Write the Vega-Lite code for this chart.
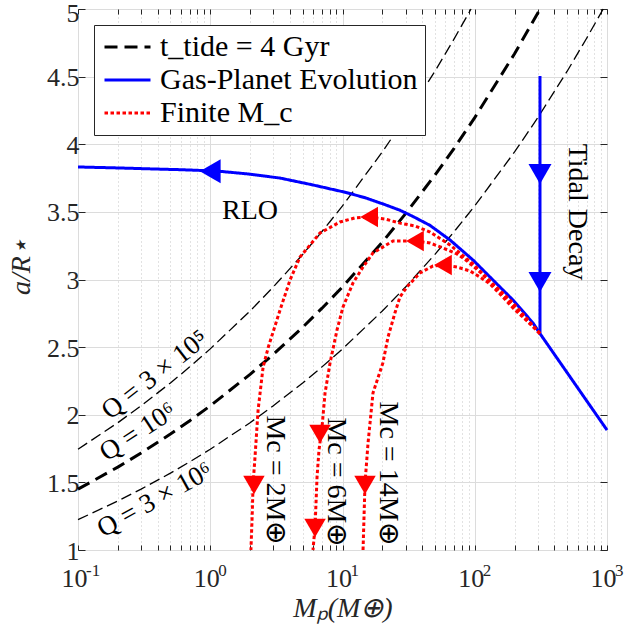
{
  "$schema": "https://vega.github.io/schema/vega-lite/v6.json",
  "width": 529,
  "height": 541,
  "autosize": {"type": "none"},
  "padding": {"left": 78, "top": 9, "right": 17, "bottom": 78},
  "config": {
    "font": "Liberation Serif",
    "view": {"stroke": "#262626", "strokeWidth": 1},
    "axis": {"labelFont": "Liberation Serif", "titleFont": "Liberation Serif", "labelColor": "#262626", "titleColor": "#262626", "tickColor": "#262626", "domainColor": "#262626", "titleFontWeight": "normal"},
    "legend": {
      "orient": "top-left", "offset": 16, "padding": 7, "strokeColor": "#262626", "fillColor": "white",
      "labelFont": "Liberation Serif", "labelFontSize": 30, "labelColor": "black", "labelLimit": 500,
      "symbolType": "M-1,0L3,0", "symbolSize": 529, "symbolStrokeWidth": 3, "rowPadding": 3, "labelOffset": 29, "cornerRadius": 0
    }
  },
  "datasets": {
    "thin": [
      {"c": "Q3e5", "i": 0, "M": 0.1, "a": 1.745}, {"c": "Q3e5", "i": 1, "M": 0.2, "a": 1.941}, {"c": "Q3e5", "i": 2, "M": 0.3, "a": 2.067},
      {"c": "Q3e5", "i": 3, "M": 0.5, "a": 2.235}, {"c": "Q3e5", "i": 4, "M": 0.7, "a": 2.354}, {"c": "Q3e5", "i": 5, "M": 1, "a": 2.487},
      {"c": "Q3e5", "i": 6, "M": 2, "a": 2.767}, {"c": "Q3e5", "i": 7, "M": 3, "a": 2.945}, {"c": "Q3e5", "i": 8, "M": 5, "a": 3.185},
      {"c": "Q3e5", "i": 9, "M": 7, "a": 3.355}, {"c": "Q3e5", "i": 10, "M": 10, "a": 3.544}, {"c": "Q3e5", "i": 11, "M": 20, "a": 3.943},
      {"c": "Q3e5", "i": 12, "M": 30, "a": 4.197}, {"c": "Q3e5", "i": 13, "M": 50, "a": 4.54}, {"c": "Q3e5", "i": 14, "M": 70, "a": 4.781},
      {"c": "Q3e5", "i": 15, "M": 93.7, "a": 5.0},
      {"c": "Q3e6", "i": 0, "M": 0.1, "a": 1.2245}, {"c": "Q3e6", "i": 1, "M": 0.2, "a": 1.362}, {"c": "Q3e6", "i": 2, "M": 0.3, "a": 1.45},
      {"c": "Q3e6", "i": 3, "M": 0.5, "a": 1.568}, {"c": "Q3e6", "i": 4, "M": 0.7, "a": 1.652}, {"c": "Q3e6", "i": 5, "M": 1, "a": 1.745},
      {"c": "Q3e6", "i": 6, "M": 2, "a": 1.941}, {"c": "Q3e6", "i": 7, "M": 3, "a": 2.067}, {"c": "Q3e6", "i": 8, "M": 5, "a": 2.235},
      {"c": "Q3e6", "i": 9, "M": 7, "a": 2.354}, {"c": "Q3e6", "i": 10, "M": 10, "a": 2.487}, {"c": "Q3e6", "i": 11, "M": 20, "a": 2.767},
      {"c": "Q3e6", "i": 12, "M": 30, "a": 2.945}, {"c": "Q3e6", "i": 13, "M": 50, "a": 3.186}, {"c": "Q3e6", "i": 14, "M": 70, "a": 3.355},
      {"c": "Q3e6", "i": 15, "M": 100, "a": 3.544}, {"c": "Q3e6", "i": 16, "M": 200, "a": 3.943}, {"c": "Q3e6", "i": 17, "M": 300, "a": 4.197},
      {"c": "Q3e6", "i": 18, "M": 500, "a": 4.54}, {"c": "Q3e6", "i": 19, "M": 700, "a": 4.782}, {"c": "Q3e6", "i": 20, "M": 936, "a": 5.0}
    ],
    "main": [
      {"s": "t_tide = 4 Gyr", "c": "Q1e6", "i": 0, "M": 0.1, "a": 1.45}, {"s": "t_tide = 4 Gyr", "c": "Q1e6", "i": 1, "M": 0.2, "a": 1.613},
      {"s": "t_tide = 4 Gyr", "c": "Q1e6", "i": 2, "M": 0.3, "a": 1.717}, {"s": "t_tide = 4 Gyr", "c": "Q1e6", "i": 3, "M": 0.5, "a": 1.857},
      {"s": "t_tide = 4 Gyr", "c": "Q1e6", "i": 4, "M": 0.7, "a": 1.956}, {"s": "t_tide = 4 Gyr", "c": "Q1e6", "i": 5, "M": 1, "a": 2.066},
      {"s": "t_tide = 4 Gyr", "c": "Q1e6", "i": 6, "M": 2, "a": 2.299}, {"s": "t_tide = 4 Gyr", "c": "Q1e6", "i": 7, "M": 3, "a": 2.447},
      {"s": "t_tide = 4 Gyr", "c": "Q1e6", "i": 8, "M": 5, "a": 2.647}, {"s": "t_tide = 4 Gyr", "c": "Q1e6", "i": 9, "M": 7, "a": 2.788},
      {"s": "t_tide = 4 Gyr", "c": "Q1e6", "i": 10, "M": 10, "a": 2.945}, {"s": "t_tide = 4 Gyr", "c": "Q1e6", "i": 11, "M": 20, "a": 3.276},
      {"s": "t_tide = 4 Gyr", "c": "Q1e6", "i": 12, "M": 30, "a": 3.487}, {"s": "t_tide = 4 Gyr", "c": "Q1e6", "i": 13, "M": 50, "a": 3.772},
      {"s": "t_tide = 4 Gyr", "c": "Q1e6", "i": 14, "M": 70, "a": 3.972}, {"s": "t_tide = 4 Gyr", "c": "Q1e6", "i": 15, "M": 100, "a": 4.197},
      {"s": "t_tide = 4 Gyr", "c": "Q1e6", "i": 16, "M": 200, "a": 4.669}, {"s": "t_tide = 4 Gyr", "c": "Q1e6", "i": 17, "M": 312, "a": 5.0},
      {"s": "Gas-Planet Evolution", "c": "gas", "i": 0, "M": 0.1, "a": 3.832}, {"s": "Gas-Planet Evolution", "c": "gas", "i": 1, "M": 0.2, "a": 3.825},
      {"s": "Gas-Planet Evolution", "c": "gas", "i": 2, "M": 0.35, "a": 3.818}, {"s": "Gas-Planet Evolution", "c": "gas", "i": 3, "M": 0.59, "a": 3.812},
      {"s": "Gas-Planet Evolution", "c": "gas", "i": 4, "M": 1.12, "a": 3.802}, {"s": "Gas-Planet Evolution", "c": "gas", "i": 5, "M": 1.9, "a": 3.781},
      {"s": "Gas-Planet Evolution", "c": "gas", "i": 6, "M": 3.37, "a": 3.75}, {"s": "Gas-Planet Evolution", "c": "gas", "i": 7, "M": 5.98, "a": 3.699},
      {"s": "Gas-Planet Evolution", "c": "gas", "i": 8, "M": 10.8, "a": 3.642}, {"s": "Gas-Planet Evolution", "c": "gas", "i": 9, "M": 15.0, "a": 3.603},
      {"s": "Gas-Planet Evolution", "c": "gas", "i": 10, "M": 21.0, "a": 3.553},
      {"s": "Gas-Planet Evolution", "c": "gas", "i": 11, "M": 27.2, "a": 3.512}, {"s": "Gas-Planet Evolution", "c": "gas", "i": 12, "M": 34.1, "a": 3.466},
      {"s": "Gas-Planet Evolution", "c": "gas", "i": 13, "M": 45.9, "a": 3.4}, {"s": "Gas-Planet Evolution", "c": "gas", "i": 14, "M": 65.0, "a": 3.292},
      {"s": "Gas-Planet Evolution", "c": "gas", "i": 15, "M": 97.0, "a": 3.144}, {"s": "Gas-Planet Evolution", "c": "gas", "i": 16, "M": 137.4, "a": 2.996},
      {"s": "Gas-Planet Evolution", "c": "gas", "i": 17, "M": 194.6, "a": 2.848}, {"s": "Gas-Planet Evolution", "c": "gas", "i": 18, "M": 276, "a": 2.678},
      {"s": "Gas-Planet Evolution", "c": "gas", "i": 19, "M": 311.4, "a": 2.6}, {"s": "Gas-Planet Evolution", "c": "gas", "i": 20, "M": 1000, "a": 1.887},
      {"s": "Gas-Planet Evolution", "c": "tidal", "i": 0, "M": 311.4, "a": 4.505}, {"s": "Gas-Planet Evolution", "c": "tidal", "i": 1, "M": 311.4, "a": 2.6},
      {"s": "Finite M_c", "c": "Mc2", "i": 0, "M": 311.4, "a": 2.6}, {"s": "Finite M_c", "c": "Mc2", "i": 1, "M": 194.6, "a": 2.826},
      {"s": "Finite M_c", "c": "Mc2", "i": 2, "M": 137.4, "a": 2.967}, {"s": "Finite M_c", "c": "Mc2", "i": 3, "M": 97.0, "a": 3.115},
      {"s": "Finite M_c", "c": "Mc2", "i": 4, "M": 65.0, "a": 3.255}, {"s": "Finite M_c", "c": "Mc2", "i": 5, "M": 45.9, "a": 3.351},
      {"s": "Finite M_c", "c": "Mc2", "i": 6, "M": 35.3, "a": 3.396}, {"s": "Finite M_c", "c": "Mc2", "i": 7, "M": 27.2, "a": 3.417},
      {"s": "Finite M_c", "c": "Mc2", "i": 8, "M": 21.0, "a": 3.447}, {"s": "Finite M_c", "c": "Mc2", "i": 9, "M": 15.9, "a": 3.462},
      {"s": "Finite M_c", "c": "Mc2", "i": 10, "M": 12.4, "a": 3.455}, {"s": "Finite M_c", "c": "Mc2", "i": 11, "M": 9.57, "a": 3.425},
      {"s": "Finite M_c", "c": "Mc2", "i": 12, "M": 6.76, "a": 3.344}, {"s": "Finite M_c", "c": "Mc2", "i": 13, "M": 4.77, "a": 3.166},
      {"s": "Finite M_c", "c": "Mc2", "i": 14, "M": 4.01, "a": 2.996}, {"s": "Finite M_c", "c": "Mc2", "i": 15, "M": 3.37, "a": 2.774},
      {"s": "Finite M_c", "c": "Mc2", "i": 16, "M": 2.75, "a": 2.501}, {"s": "Finite M_c", "c": "Mc2", "i": 17, "M": 2.51, "a": 2.353},
      {"s": "Finite M_c", "c": "Mc2", "i": 18, "M": 2.3, "a": 2.035}, {"s": "Finite M_c", "c": "Mc2", "i": 19, "M": 2.18, "a": 1.688},
      {"s": "Finite M_c", "c": "Mc2", "i": 20, "M": 2.11, "a": 1.495}, {"s": "Finite M_c", "c": "Mc2", "i": 21, "M": 2.07, "a": 1.222},
      {"s": "Finite M_c", "c": "Mc2", "i": 22, "M": 2.03, "a": 1.0},
      {"s": "Finite M_c", "c": "Mc6", "i": 0, "M": 311.4, "a": 2.6}, {"s": "Finite M_c", "c": "Mc6", "i": 1, "M": 219.8, "a": 2.752},
      {"s": "Finite M_c", "c": "Mc6", "i": 2, "M": 155.2, "a": 2.908}, {"s": "Finite M_c", "c": "Mc6", "i": 3, "M": 109.6, "a": 3.055},
      {"s": "Finite M_c", "c": "Mc6", "i": 4, "M": 87.4, "a": 3.137}, {"s": "Finite M_c", "c": "Mc6", "i": 5, "M": 73.4, "a": 3.189},
      {"s": "Finite M_c", "c": "Mc6", "i": 6, "M": 57.5, "a": 3.233}, {"s": "Finite M_c", "c": "Mc6", "i": 7, "M": 45.9, "a": 3.27},
      {"s": "Finite M_c", "c": "Mc6", "i": 8, "M": 35.3, "a": 3.285}, {"s": "Finite M_c", "c": "Mc6", "i": 9, "M": 24.1, "a": 3.285},
      {"s": "Finite M_c", "c": "Mc6", "i": 10, "M": 17.0, "a": 3.196}, {"s": "Finite M_c", "c": "Mc6", "i": 11, "M": 14.3, "a": 3.092},
      {"s": "Finite M_c", "c": "Mc6", "i": 12, "M": 12.0, "a": 2.974}, {"s": "Finite M_c", "c": "Mc6", "i": 13, "M": 10.09, "a": 2.797},
      {"s": "Finite M_c", "c": "Mc6", "i": 14, "M": 9.09, "a": 2.627}, {"s": "Finite M_c", "c": "Mc6", "i": 15, "M": 8.05, "a": 2.383},
      {"s": "Finite M_c", "c": "Mc6", "i": 16, "M": 7.38, "a": 2.161}, {"s": "Finite M_c", "c": "Mc6", "i": 17, "M": 7.0, "a": 1.909},
      {"s": "Finite M_c", "c": "Mc6", "i": 18, "M": 6.64, "a": 1.739}, {"s": "Finite M_c", "c": "Mc6", "i": 19, "M": 6.42, "a": 1.54},
      {"s": "Finite M_c", "c": "Mc6", "i": 20, "M": 6.2, "a": 1.17}, {"s": "Finite M_c", "c": "Mc6", "i": 21, "M": 5.98, "a": 1.0},
      {"s": "Finite M_c", "c": "Mc14", "i": 0, "M": 311.4, "a": 2.6}, {"s": "Finite M_c", "c": "Mc14", "i": 1, "M": 248.4, "a": 2.693},
      {"s": "Finite M_c", "c": "Mc14", "i": 2, "M": 194.6, "a": 2.789}, {"s": "Finite M_c", "c": "Mc14", "i": 3, "M": 155.2, "a": 2.893},
      {"s": "Finite M_c", "c": "Mc14", "i": 4, "M": 130.4, "a": 2.967}, {"s": "Finite M_c", "c": "Mc14", "i": 5, "M": 109.6, "a": 3.018},
      {"s": "Finite M_c", "c": "Mc14", "i": 6, "M": 92.1, "a": 3.063}, {"s": "Finite M_c", "c": "Mc14", "i": 7, "M": 73.4, "a": 3.092},
      {"s": "Finite M_c", "c": "Mc14", "i": 8, "M": 57.5, "a": 3.107}, {"s": "Finite M_c", "c": "Mc14", "i": 9, "M": 48.3, "a": 3.1},
      {"s": "Finite M_c", "c": "Mc14", "i": 10, "M": 38.5, "a": 3.048}, {"s": "Finite M_c", "c": "Mc14", "i": 11, "M": 30.7, "a": 2.945},
      {"s": "Finite M_c", "c": "Mc14", "i": 12, "M": 27.2, "a": 2.871}, {"s": "Finite M_c", "c": "Mc14", "i": 13, "M": 24.9, "a": 2.752},
      {"s": "Finite M_c", "c": "Mc14", "i": 14, "M": 22.1, "a": 2.575}, {"s": "Finite M_c", "c": "Mc14", "i": 15, "M": 20.2, "a": 2.383},
      {"s": "Finite M_c", "c": "Mc14", "i": 16, "M": 17.0, "a": 2.161}, {"s": "Finite M_c", "c": "Mc14", "i": 17, "M": 15.6, "a": 1.791},
      {"s": "Finite M_c", "c": "Mc14", "i": 18, "M": 14.8, "a": 1.495}, {"s": "Finite M_c", "c": "Mc14", "i": 19, "M": 14.5, "a": 1.2},
      {"s": "Finite M_c", "c": "Mc14", "i": 20, "M": 14.3, "a": 1.0}
    ],
    "exps": [{"M": 0.1, "e": "-1"}, {"M": 1, "e": "0"}, {"M": 10, "e": "1"}, {"M": 100, "e": "2"}, {"M": 1000, "e": "3"}],
    "blueLeft": [{"M": 1.0, "a": 3.8}],
    "blueDown": [{"M": 311.4, "a": 3.78}, {"M": 311.4, "a": 2.982}],
    "redLeft": [{"M": 15.9, "a": 3.462}, {"M": 35.3, "a": 3.285}, {"M": 57.5, "a": 3.107}],
    "redDown": [{"M": 2.14, "a": 1.481}, {"M": 6.76, "a": 1.858}, {"M": 6.2, "a": 1.163}, {"M": 14.8, "a": 1.481}]
  },
  "layer": [
    {
      "data": {"name": "thin"},
      "mark": {"type": "line", "color": "black", "strokeWidth": 1.3, "strokeDash": [11, 5]},
      "encoding": {
        "x": {"field": "M", "type": "quantitative", "scale": {"type": "log", "domain": [0.1, 1000], "nice": false},
          "axis": {"orient": "top", "values": [0.1,0.2,0.3,0.4,0.5,0.6,0.7,0.8,0.9,1,2,3,4,5,6,7,8,9,10,20,30,40,50,60,70,80,90,100,200,300,400,500,600,700,800,900,1000],
            "labels": false, "title": null, "grid": false, "domain": false, "tickSize": -5}},
        "y": {"field": "a", "type": "quantitative", "scale": {"domain": [1, 5], "nice": false, "zero": false},
          "axis": {"orient": "right", "values": [1,1.5,2,2.5,3,3.5,4,4.5,5], "labels": false, "title": null, "grid": false, "domain": false, "tickSize": -7}},
        "detail": {"field": "c"},
        "order": {"field": "i", "type": "quantitative"}
      }
    },
    {
      "data": {"name": "main"},
      "mark": {"type": "line", "strokeWidth": 3},
      "encoding": {
        "x": {"field": "M", "type": "quantitative",
          "axis": {"orient": "bottom", "values": [0.1,0.2,0.3,0.4,0.5,0.6,0.7,0.8,0.9,1,2,3,4,5,6,7,8,9,10,20,30,40,50,60,70,80,90,100,200,300,400,500,600,700,800,900,1000],
            "labelExpr": "abs(log(datum.value)/LN10 - round(log(datum.value)/LN10)) < 0.01 ? '10' : ''",
            "labelFlush": false, "labelOverlap": false, "labelBound": false, "labelFontSize": 26, "labelPadding": 20, "labelOffset": -4,
            "grid": true,
            "gridColor": {"condition": {"test": "abs(log(datum.value)/LN10 - round(log(datum.value)/LN10)) < 0.01", "value": "#dcdcdc"}, "value": "#c4c4c4"},
            "gridDash": {"condition": {"test": "abs(log(datum.value)/LN10 - round(log(datum.value)/LN10)) < 0.01", "value": []}, "value": [1, 3]},
            "tickSize": -5, "domain": false,
            "title": "Mₚ(M⊕)", "titleFontSize": 28, "titleFontStyle": "italic", "titlePadding": 3}},
        "y": {"field": "a", "type": "quantitative",
          "axis": {"orient": "left", "values": [1,1.5,2,2.5,3,3.5,4,4.5,5], "format": "~g", "labelFontSize": 26, "labelPadding": 6,
            "labelBaseline": "middle",
            "labelOffset": {"condition": {"test": "datum.value >= 4.99", "value": 4}, "value": 1},
            "labelFlush": false, "labelOverlap": false, "grid": true, "gridColor": "#dcdcdc", "tickSize": -7, "domain": false,
            "title": "a/R⋆", "titleFontSize": 28, "titleFontStyle": "italic", "titleX": -57, "titleY": 257, "titleBaseline": "middle", "titleAlign": "center"}},
        "color": {"field": "s", "type": "nominal", "scale": {"domain": ["t_tide = 4 Gyr", "Gas-Planet Evolution", "Finite M_c"], "range": ["#000000", "#0000ff", "#ff0000"]},
          "legend": {"title": null, "symbolType": "M-1,0L3,0", "symbolSize": 529, "labelOffset": 29}},
        "strokeDash": {"field": "s", "type": "nominal", "scale": {"domain": ["t_tide = 4 Gyr", "Gas-Planet Evolution", "Finite M_c"], "range": [[13, 7], [1, 0], [3.5, 2.5]]},
          "legend": {"title": null, "symbolType": "M-1,0L3,0", "symbolSize": 529, "labelOffset": 29}},
        "detail": {"field": "c"},
        "order": {"field": "i", "type": "quantitative"}
      }
    },
    {
      "data": {"name": "exps"},
      "mark": {"type": "text", "fontSize": 17, "font": "Liberation Serif", "color": "#262626", "align": "left", "baseline": "alphabetic", "dx": 8, "dy": 26},
      "encoding": {"x": {"field": "M", "type": "quantitative", "axis": null}, "y": {"datum": 1, "type": "quantitative", "axis": null}, "text": {"field": "e"}}
    },
    {
      "data": {"name": "blueLeft"},
      "mark": {"type": "point", "shape": "triangle-left", "filled": true, "color": "#0000ff", "size": 576, "opacity": 1},
      "encoding": {"x": {"field": "M", "type": "quantitative", "axis": null}, "y": {"field": "a", "type": "quantitative", "axis": null}}
    },
    {
      "data": {"name": "blueDown"},
      "mark": {"type": "point", "shape": "triangle-down", "filled": true, "color": "#0000ff", "size": 529, "opacity": 1},
      "encoding": {"x": {"field": "M", "type": "quantitative", "axis": null}, "y": {"field": "a", "type": "quantitative", "axis": null}}
    },
    {
      "data": {"name": "redLeft"},
      "mark": {"type": "point", "shape": "triangle-left", "filled": true, "color": "#ff0000", "size": 420, "opacity": 1},
      "encoding": {"x": {"field": "M", "type": "quantitative", "axis": null}, "y": {"field": "a", "type": "quantitative", "axis": null}}
    },
    {
      "data": {"name": "redDown"},
      "mark": {"type": "point", "shape": "triangle-down", "filled": true, "color": "#ff0000", "size": 460, "opacity": 1},
      "encoding": {"x": {"field": "M", "type": "quantitative", "axis": null}, "y": {"field": "a", "type": "quantitative", "axis": null}}
    },
    {
      "data": {"values": [{"t": "RLO", "M": 2.0, "a": 3.506}]},
      "mark": {"type": "text", "fontSize": 28, "font": "Liberation Serif", "color": "black", "align": "center", "baseline": "middle"},
      "encoding": {"x": {"field": "M", "type": "quantitative", "axis": null}, "y": {"field": "a", "type": "quantitative", "axis": null}, "text": {"field": "t"}}
    },
    {
      "data": {"values": [
        {"t": "Tidal Decay", "M": 593, "a": 3.499},
        {"t": "Mc = 2M⊕", "M": 3.09, "a": 1.518},
        {"t": "Mc = 6M⊕", "M": 8.93, "a": 1.503},
        {"t": "Mc = 14M⊕", "M": 22.1, "a": 1.569}
      ]},
      "mark": {"type": "text", "fontSize": 28, "font": "Liberation Serif", "color": "black", "align": "center", "baseline": "middle", "angle": 90},
      "encoding": {"x": {"field": "M", "type": "quantitative", "axis": null}, "y": {"field": "a", "type": "quantitative", "axis": null}, "text": {"field": "t"}}
    },
    {
      "data": {"values": [{"t": "Q = 3 × 10⁵", "M": 0.382, "a": 2.294}]},
      "mark": {"type": "text", "fontSize": 27, "font": "Liberation Serif", "color": "black", "align": "center", "baseline": "middle", "angle": -38},
      "encoding": {"x": {"field": "M", "type": "quantitative", "axis": null}, "y": {"field": "a", "type": "quantitative", "axis": null}, "text": {"field": "t"}}
    },
    {
      "data": {"values": [{"t": "Q = 10⁶", "M": 0.284, "a": 1.872}]},
      "mark": {"type": "text", "fontSize": 27, "font": "Liberation Serif", "color": "black", "align": "center", "baseline": "middle", "angle": -33},
      "encoding": {"x": {"field": "M", "type": "quantitative", "axis": null}, "y": {"field": "a", "type": "quantitative", "axis": null}, "text": {"field": "t"}}
    },
    {
      "data": {"values": [{"t": "Q = 3 × 10⁶", "M": 0.382, "a": 1.37}]},
      "mark": {"type": "text", "fontSize": 27, "font": "Liberation Serif", "color": "black", "align": "center", "baseline": "middle", "angle": -29},
      "encoding": {"x": {"field": "M", "type": "quantitative", "axis": null}, "y": {"field": "a", "type": "quantitative", "axis": null}, "text": {"field": "t"}}
    }
  ],
  "resolve": {"axis": {"x": "independent", "y": "independent"}}
}
